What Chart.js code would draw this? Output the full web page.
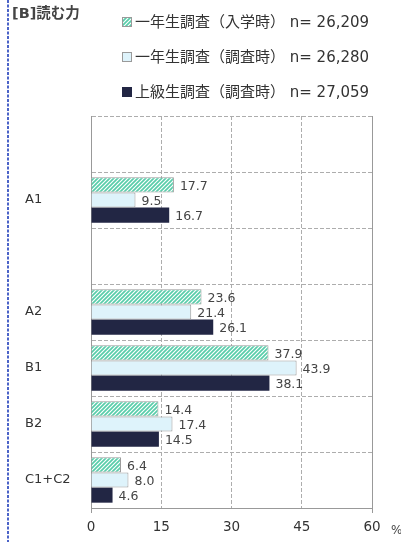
<!DOCTYPE html>
<html><head><meta charset="utf-8">
<script src="https://cdn.jsdelivr.net/npm/chart.js@4"></script>
<style>html,body{margin:0;padding:0;background:#fff;}#wrap{width:401px;height:542px;position:relative;}</style>
</head><body><div id="wrap"><canvas id="c"></canvas></div>
<script>
const title = '[B]読む力';
const categories = [' ', 'A1', '  ', 'A2', 'B1', 'B2', 'C1+C2'];
const seriesNames = ['一年生調査（入学時）', '一年生調査（調査時）', '上級生調査（調査時）'];
const seriesN = ['n= 26,209', 'n= 26,280', 'n= 27,059'];
const entryValues = [null, 17.7, null, 23.6, 37.9, 14.4, 6.4];
const firstYearValues = [null, 9.5, null, 21.4, 43.9, 17.4, 8.0];
const seniorValues = [null, 16.7, null, 26.1, 38.1, 14.5, 4.6];
const xTicks = [0, 15, 30, 45, 60];

const FONT = "'DejaVu Sans','Noto Sans CJK JP',sans-serif";

function hatch() {
  const c = document.createElement('canvas');
  c.width = 4; c.height = 4;
  const g = c.getContext('2d');
  g.fillStyle = '#ffffff'; g.fillRect(0,0,4,4);
  g.strokeStyle = '#58cdaa'; g.lineWidth = 1.7;
  g.beginPath();
  g.moveTo(-1,5); g.lineTo(5,-1);
  g.moveTo(-1,1); g.lineTo(1,-1);
  g.moveTo(3,5); g.lineTo(5,3);
  g.stroke();
  return g.createPattern(c, 'repeat');
}
const hatchPat = hatch();
const fills = [hatchPat, '#def3fb', '#222644'];
const borders = ['#9a9a9a', '#9a9a9a', '#222644'];

const extras = {
  id: 'extras',
  afterDatasetsDraw(chart) {
    const ctx = chart.ctx;
    ctx.save();
    ctx.font = '12.5px ' + FONT;
    ctx.fillStyle = '#444';
    ctx.textBaseline = 'middle';
    ctx.textAlign = 'left';
    chart.data.datasets.forEach((ds, i) => {
      const meta = chart.getDatasetMeta(i);
      meta.data.forEach((el, j) => {
        const v = ds.data[j];
        if (v === null || v === undefined) return;
        ctx.fillText(v.toFixed(1), el.x + 6, el.y + 1.5);
      });
    });
    ctx.restore();
  },
  afterDraw(chart) {
    const ctx = chart.ctx;
    const ca = chart.chartArea;
    ctx.save();
    // left dotted blue line
    ctx.strokeStyle = '#4b63c8';
    ctx.lineWidth = 2;
    ctx.setLineDash([3, 1.5]);
    ctx.beginPath(); ctx.moveTo(8, 0); ctx.lineTo(8, 542); ctx.stroke();
    ctx.setLineDash([]);
    // title
    ctx.fillStyle = '#444';
    ctx.font = 'bold 14.5px ' + FONT;
    ctx.textBaseline = 'middle';
    ctx.textAlign = 'left';
    ctx.fillText(title, 12, 14);
    // legend
    ctx.font = '15px ' + FONT;
    seriesNames.forEach((name, i) => {
      const cy = 22 + i * 35;
      ctx.fillStyle = fills[i];
      ctx.fillRect(122.5, cy - 4.5, 9, 9);
      ctx.strokeStyle = borders[i];
      ctx.lineWidth = 1;
      ctx.strokeRect(122.5, cy - 4.5, 9, 9);
      ctx.fillStyle = '#333';
      ctx.fillText(name + ' ' + seriesN[i], 135, cy + 1);
    });
    // percent sign
    ctx.font = '12px ' + FONT;
    ctx.fillStyle = '#444';
    ctx.fillText('%', ca.right + 19, ca.bottom + 23);
    ctx.restore();
  }
};

new Chart(document.getElementById('c'), {
  type: 'bar',
  data: {
    labels: categories,
    datasets: [
      { label: seriesNames[0], data: entryValues, backgroundColor: fills[0], borderColor: borders[0], borderWidth: 1 },
      { label: seriesNames[1], data: firstYearValues, backgroundColor: fills[1], borderColor: borders[1], borderWidth: 1 },
      { label: seriesNames[2], data: seniorValues, backgroundColor: fills[2], borderColor: borders[2], borderWidth: 0 }
    ]
  },
  plugins: [extras],
  options: {
    indexAxis: 'y',
    responsive: true,
    maintainAspectRatio: false,
    animation: false,
    events: [],
    layout: { padding: { left: 25, top: 116, right: 29, bottom: 0 } },
    datasets: { bar: { barPercentage: 1.0, categoryPercentage: 0.81 } },
    plugins: { legend: { display: false }, title: { display: false }, tooltip: { enabled: false } },
    scales: {
      x: {
        type: 'linear', min: 0, max: 60,
        afterBuildTicks(scale) { scale.ticks = xTicks.map(v => ({ value: v })); },
        afterFit(scale) { scale.height = 34; },
        ticks: { font: { family: FONT, size: 13.5 }, color: '#333', padding: 6 },
        grid: {
          color: (c) => (c.tick && (c.tick.value === 0 || c.tick.value === 60)) ? 'rgba(0,0,0,0)' : '#adadad',
          tickColor: (c) => (c.tick && (c.tick.value === 0 || c.tick.value === 60)) ? '#999' : 'rgba(0,0,0,0)',
          tickLength: 5,
          lineWidth: 1
        },
        border: { color: '#999', width: 1, dash: [4, 2] }
      },
      y: {
        type: 'category',
        afterFit(scale) { scale.width = 66; },
        ticks: { font: { family: FONT, size: 13 }, color: '#333', crossAlign: 'far' },
        grid: { color: '#adadad', drawTicks: false, offset: true, lineWidth: 1 },
        border: { color: '#999', width: 1, dash: [4, 2] }
      },
      y2: {
        type: 'linear', position: 'right', display: true,
        afterFit(scale) { scale.width = 0; },
        ticks: { display: false },
        grid: { drawOnChartArea: false, drawTicks: false },
        border: { color: '#999', width: 1 }
      }
    }
  }
});
</script></body></html>
